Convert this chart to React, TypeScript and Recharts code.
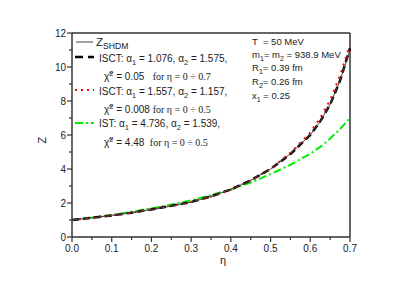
import React from 'react';
import { LineChart, Line, XAxis, YAxis, ReferenceLine } from 'recharts';

// values
const eta = [0, 0.05, 0.1, 0.15, 0.2, 0.25, 0.3, 0.35, 0.4, 0.45, 0.5, 0.55, 0.6, 0.625, 0.65, 0.675, 0.7];
const zShdm = [1.0, 1.13, 1.27, 1.43, 1.62, 1.82, 2.05, 2.38, 2.8, 3.32, 4.0, 4.9, 6.0, 6.8, 7.8, 9.2, 11.0];
const zIsct1 = [1.0, 1.13, 1.27, 1.43, 1.62, 1.83, 2.06, 2.39, 2.8, 3.33, 4.0, 4.88, 6.0, 6.8, 7.8, 9.2, 11.1];
const zIsct2 = [1.0, 1.13, 1.27, 1.43, 1.62, 1.83, 2.06, 2.38, 2.79, 3.33, 4.02, 4.95, 6.15, 7.0, 8.05, 9.5, 11.3];
const zIst = [1.0, 1.14, 1.3, 1.48, 1.68, 1.91, 2.16, 2.46, 2.8, 3.2, 3.7, 4.25, 4.9, 5.3, 5.8, 6.35, 7.0];

const xTicks = [0, 0.05, 0.1, 0.15, 0.2, 0.25, 0.3, 0.35, 0.4, 0.45, 0.5, 0.55, 0.6, 0.65, 0.7];
const yTicks = [0, 1, 2, 3, 4, 5, 6, 7, 8, 9, 10, 11, 12];

const data = eta.map((e, i) => ({
  eta: e,
  shdm: zShdm[i],
  isct1: zIsct1[i],
  isct2: zIsct2[i],
  ist: zIst[i],
}));

const AXIS = '#333';
const FONT = '"Liberation Sans", Arial, sans-serif';
const SERIF = '"Liberation Serif", serif';

const XTick = ({ x, y, payload }: any) => {
  const v = payload.value;
  const major = Math.abs(v * 10 - Math.round(v * 10)) < 1e-6;
  return (
    <g>
      <line x1={x} x2={x} y1={y} y2={y + (major ? 5 : 3)} stroke={AXIS} strokeWidth={1.2} />
      {major && (
        <text x={x} y={y + 15} textAnchor="middle" fontSize={10} fill="#222" fontFamily={FONT}>
          {v.toFixed(1)}
        </text>
      )}
    </g>
  );
};

const YTick = ({ x, y, payload }: any) => {
  const v = payload.value;
  const major = v % 2 === 0;
  return (
    <g>
      <line x1={x} x2={x - (major ? 5 : 3)} y1={y} y2={y} stroke={AXIS} strokeWidth={1.2} />
      {major && (
        <text x={x - 6} y={y + 3.5} textAnchor="end" fontSize={10} fill="#222" fontFamily={FONT}>
          {v}
        </text>
      )}
    </g>
  );
};

// segments: plain string, or [text, 'sub' | 'sup' | 'serif']
const Rich = ({ x, y, size = 10, parts }: any) => {
  let shift = 0;
  return (
    <text x={x} y={y} fontSize={size} fill="#222" fontFamily={FONT} xmlSpace="preserve">
      {parts.map((p: any, i: number) => {
        const [t, kind] = typeof p === 'string' ? [p, ''] : p;
        const target = kind === 'sub' ? 3 : kind === 'sup' ? -4 : 0;
        const dy = target - shift;
        shift = target;
        const small = kind === 'sub' || kind === 'sup';
        return (
          <tspan key={i} dy={dy} fontSize={small ? size * 0.75 : size} fontFamily={kind === 'serif' ? SERIF : FONT}>
            {t}
          </tspan>
        );
      })}
    </text>
  );
};

const Overlay = () => (
  <svg width={407} height={284} style={{ position: 'absolute', left: 0, top: 0, pointerEvents: 'none' }}>
    <g fontFamily={FONT} fill="#222">
      <line x1={76} x2={93} y1={42} y2={42} stroke="#444" strokeWidth={1} />
      <Rich x={96} y={46} size={11.5} parts={['Z', ['SHDM', 'sub']]} />

      <line x1={75} x2={94} y1={57} y2={57} stroke="#000" strokeWidth={2.5} strokeDasharray="8 5" />
      <Rich x={99} y={62} size={10} parts={['ISCT: α', ['1', 'sub'], ' = 1.076, α', ['2', 'sub'], ' = 1.575,']} />
      <Rich x={104} y={80} size={10} parts={['χ̃', ['2', 'sup'], ' = 0.05   ', ['for η = 0 ÷ 0.7', 'serif']]} />

      <line x1={75} x2={94} y1={90} y2={90} stroke="#ff0000" strokeWidth={2} strokeDasharray="2 4" />
      <Rich x={99} y={95} size={10} parts={['ISCT: α', ['1', 'sub'], ' = 1.557, α', ['2', 'sub'], ' = 1.157,']} />
      <Rich x={104} y={113} size={10} parts={['χ̃', ['2', 'sup'], ' = 0.008 ', ['for η = 0 ÷ 0.5', 'serif']]} />

      <line x1={75} x2={94} y1={123} y2={123} stroke="#00ee00" strokeWidth={2} strokeDasharray="8 3 2 3" />
      <Rich x={99} y={127} size={10} parts={['IST: α', ['1', 'sub'], ' = 4.736, α', ['2', 'sub'], ' = 1.539,']} />
      <Rich x={104} y={146} size={10} parts={['χ̃', ['2', 'sup'], ' = 4.48  ', ['for η = 0 ÷ 0.5', 'serif']]} />

      <Rich x={252} y={45} size={9.5} parts={['T  = 50 MeV']} />
      <Rich x={252} y={58} size={9.5} parts={['m', ['1', 'sub'], '= m', ['2', 'sub'], ' = 938.9 MeV']} />
      <Rich x={252} y={71} size={9.5} parts={['R', ['1', 'sub'], '= 0.39 fm']} />
      <Rich x={252} y={85} size={9.5} parts={['R', ['2', 'sub'], '= 0.26 fm']} />
      <Rich x={252} y={99} size={9.5} parts={['x', ['1', 'sub'], ' = 0.25']} />

      <text x={223} y={264} textAnchor="middle" fontSize={11}>η</text>
      <text x={46} y={140} textAnchor="middle" fontSize={11} transform="rotate(-90 46 140)">Z</text>
    </g>
  </svg>
);

export default function App() {
  return (
    <div style={{ position: 'absolute', left: 0, top: 0, width: 407, height: 284, background: '#fff' }}>
      <LineChart width={407} height={284} data={data} margin={{ top: 33, right: 57, left: 0, bottom: 0 }}>
        <XAxis
          dataKey="eta"
          type="number"
          domain={[0, 0.7]}
          ticks={xTicks}
          interval={0}
          tick={<XTick />}
          tickSize={0}
          tickMargin={0}
          height={47}
          stroke={AXIS}
          strokeWidth={1.5}
        />
        <YAxis
          type="number"
          domain={[0, 12]}
          ticks={yTicks}
          interval={0}
          tick={<YTick />}
          tickSize={0}
          tickMargin={0}
          width={72}
          allowDataOverflow
          stroke={AXIS}
          strokeWidth={1.5}
        />
        <ReferenceLine y={12} stroke={AXIS} strokeWidth={1.5} />
        <ReferenceLine x={0.7} stroke={AXIS} strokeWidth={1.5} />
        <Line dataKey="ist" stroke="#00ee00" strokeWidth={2} strokeDasharray="8 3 2 3" dot={false} isAnimationActive={false} />
        <Line dataKey="isct1" stroke="#000" strokeWidth={2.5} strokeDasharray="7 4" dot={false} isAnimationActive={false} />
        <Line dataKey="isct2" stroke="#ff0000" strokeWidth={2} strokeDasharray="2 5" dot={false} isAnimationActive={false} />
        <Line dataKey="shdm" stroke="#444" strokeWidth={1} dot={false} isAnimationActive={false} />
      </LineChart>
      <Overlay />
    </div>
  );
}
